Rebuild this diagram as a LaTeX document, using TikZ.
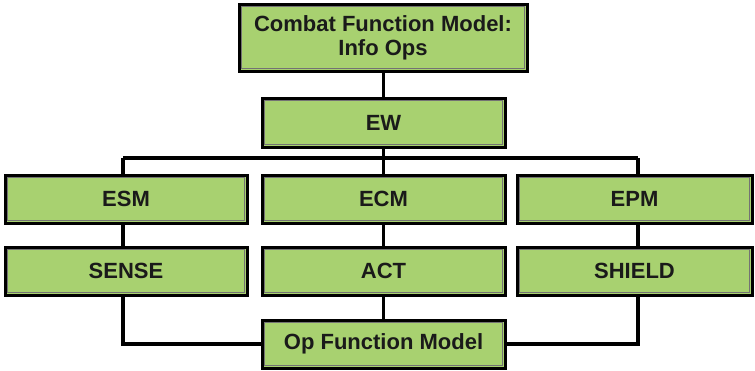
\documentclass[tikz,border=0pt]{standalone}
\usepackage{fontspec}
\setmainfont{Liberation Sans}
\usetikzlibrary{backgrounds}
\definecolor{boxgreen}{HTML}{A8D170}
\definecolor{inkdark}{HTML}{1A1A1A}
\begin{document}
\begin{tikzpicture}[x=1pt,y=-1pt,
  box/.style={rectangle, fill=boxgreen, draw=black, line width=3pt,
    inner sep=0pt, align=center, text=inkdark,
    font=\fontsize{22}{25}\selectfont\bfseries,
    path picture={\draw[line width=0.9pt, black!55]
      ([shift={(2.2pt,2.2pt)}]path picture bounding box.south west) rectangle
      ([shift={(-2.2pt,-2.2pt)}]path picture bounding box.north east);}},
  link/.style={line width=3.6pt, draw=black}]
\useasboundingbox (0,0) rectangle (755,370);

% boxes, positioned by centre with width and height in px
\node[box, minimum width=288pt, minimum height=67pt] (top) at (383,37.5)
  {Combat Function Model:\\[-1pt]Info Ops};
\node[box, minimum width=243pt, minimum height=49pt] (ew) at (383.5,122.5) {EW};

\node[box, minimum width=242pt, minimum height=48pt] (esm) at (126,199) {ESM};
\node[box, minimum width=243pt, minimum height=48pt] (ecm) at (383.5,199) {ECM};
\node[box, minimum width=235pt, minimum height=48pt] (epm) at (634.5,199) {EPM};

\node[box, minimum width=242pt, minimum height=48pt] (sense) at (126,271) {SENSE};
\node[box, minimum width=243pt, minimum height=48pt] (act) at (383.5,271) {ACT};
\node[box, minimum width=235pt, minimum height=48pt] (shield) at (634.5,271) {SHIELD};

\node[box, minimum width=243pt, minimum height=48pt] (op) at (383.5,344) {Op Function Model};

% branch points of the tree
\coordinate (busL) at (123,158);
\coordinate (busC) at (383.5,158);
\coordinate (busR) at (638,158);
\coordinate (botL) at (123,344);
\coordinate (botR) at (638,344);

% connectors sit behind the boxes
\begin{scope}[on background layer]
  \draw[link] (ew.north) -- (ew.north |- top.south);
  \draw[link] (ew) -- (busC);
  \draw[link] (busL) -- (busR);
  \draw[link] (busL) -- (busL |- esm.north);
  \draw[link] (busC) -- (ecm);
  \draw[link] (busR) -- (busR |- epm.north);
  \draw[link] (esm.south -| busL) -- (sense.north -| busL);
  \draw[link] (ecm) -- (act);
  \draw[link] (epm.south -| busR) -- (shield.north -| busR);
  \draw[link] (sense.south -| botL) -- (botL) -- (op.west);
  \draw[link] (shield.south -| botR) -- (botR) -- (op.east);
  \draw[link] (act) -- (op);
\end{scope}
\end{tikzpicture}
\end{document}
